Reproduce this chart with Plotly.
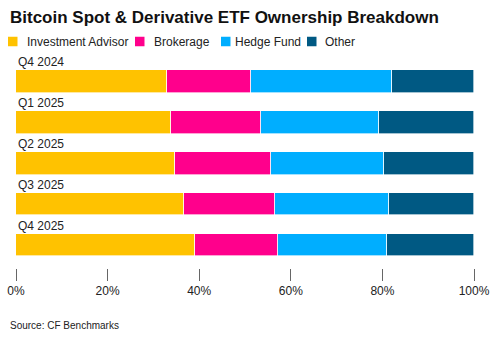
import plotly.graph_objects as go

categories = ["Q4 2024", "Q1 2025", "Q2 2025", "Q3 2025", "Q4 2025"]
series_names = ["Investment Advisor", "Brokerage", "Hedge Fund", "Other"]
investment_advisor = [33.0, 33.8, 34.7, 36.6, 39.1]
brokerage = [18.3, 19.8, 20.9, 19.9, 18.1]
hedge_fund = [30.8, 25.7, 24.8, 24.9, 23.8]
other = [17.9, 20.7, 19.6, 18.6, 19.0]
colors = ["#FFC200", "#FF008C", "#00AEFF", "#005983"]
tick_vals = [0, 20, 40, 60, 80, 100]
tick_text = ["0%", "20%", "40%", "60%", "80%", "100%"]

W, H = 500, 339
ML, MR, MT, MB = 16, 26, 55, 71
FONT = "Liberation Sans, Arial, sans-serif"

fig = go.Figure()
for name, vals, col in zip(series_names, [investment_advisor, brokerage, hedge_fund, other], colors):
    fig.add_trace(go.Bar(
        y=categories, x=vals, name=name, orientation="h",
        marker=dict(color=col, line=dict(color="rgba(255,255,255,0.8)", width=0.8)),
        width=0.55, showlegend=False, hoverinfo="x+name",
    ))

# category labels above bars
for c in categories:
    fig.add_annotation(x=0, y=c, xref="x", yref="y", text=c, showarrow=False,
                       xanchor="left", yanchor="middle", yshift=19.5,
                       font=dict(size=12, color="#222", family=FONT))

pw = W - ML - MR
ph = H - MT - MB
def px_x(p):
    return (p - ML) / pw
def px_y(p):
    return (H - MB - p) / ph

# legend (custom)
legend_sq_x = [8, 135, 221, 307]
legend_tx_x = [25, 152, 233, 323]
ly = 41.5
for name, col, sx, tx in zip(series_names, colors, legend_sq_x, legend_tx_x):
    fig.add_shape(type="rect", xref="paper", yref="paper",
                  x0=px_x(sx), x1=px_x(sx + 9.5), y0=px_y(ly - 4.75), y1=px_y(ly + 4.75),
                  fillcolor=col, line=dict(width=0))
    fig.add_annotation(xref="paper", yref="paper", x=px_x(tx), y=px_y(ly),
                       text=name, showarrow=False, xanchor="left", yanchor="middle",
                       font=dict(size=12, color="#222", family=FONT))

# title
fig.add_annotation(xref="paper", yref="paper", x=px_x(8), y=px_y(18),
                   text="<b>Bitcoin Spot & Derivative ETF Ownership Breakdown</b>",
                   showarrow=False, xanchor="left", yanchor="middle",
                   font=dict(size=17, color="#111", family=FONT))
# source
fig.add_annotation(xref="paper", yref="paper", x=px_x(8), y=px_y(325),
                   text="Source: CF Benchmarks", showarrow=False,
                   xanchor="left", yanchor="middle",
                   font=dict(size=10, color="#222", family=FONT))

fig.update_layout(
    width=W, height=H, barmode="stack", bargap=0,
    margin=dict(l=ML, r=MR, t=MT, b=MB, pad=0, autoexpand=False),
    plot_bgcolor="white", paper_bgcolor="white",
    font=dict(family=FONT, size=12, color="#222"),
    xaxis=dict(range=[0, 100], tickmode="array", tickvals=tick_vals, ticktext=tick_text,
               showgrid=False, zeroline=False, showline=False, automargin=False,
               ticks="outside", ticklen=12, tickwidth=1, tickcolor="#666",
               tickfont=dict(size=12, color="#222", family=FONT), fixedrange=True),
    yaxis=dict(type="category", categoryorder="array", categoryarray=categories,
               range=[4.56, -0.648], showticklabels=False, showgrid=False, automargin=False,
               zeroline=False, showline=False, fixedrange=True),
)

fig.write_html("out.html", config={"displayModeBar": False})
